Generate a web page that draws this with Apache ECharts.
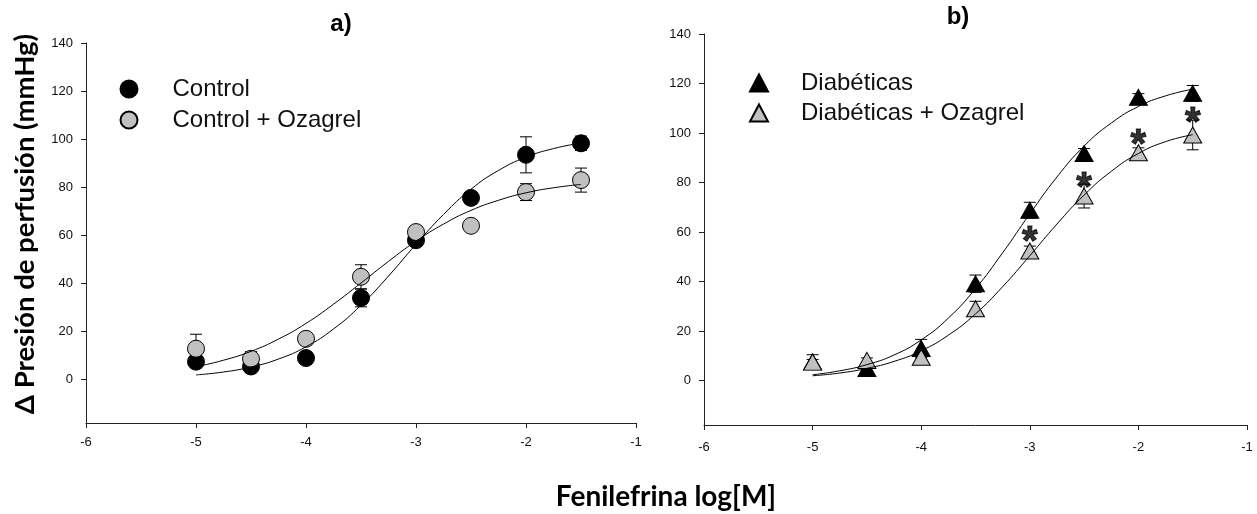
<!DOCTYPE html>
<html>
<head>
<meta charset="utf-8">
<script src="https://cdn.jsdelivr.net/npm/echarts@6/dist/echarts.min.js"></script>
<style>
  html, body { margin: 0; padding: 0; background: #fff; }
  #main { width: 1257px; height: 514px; }
</style>
</head>
<body>
<div id="main"></div>
<script>
// dosis (log M)
const doses = [-5, -4.5, -4, -3.5, -3, -2.5, -2, -1.5];
const fitX = [-5, -4.75, -4.5, -4.25, -4, -3.75, -3.5, -3.25, -3, -2.75, -2.5, -2.25, -2, -1.75, -1.5];
const yTicks = [0, 20, 40, 60, 80, 100, 120, 140];

// panel a
const controlMean = [7.5, 5.5, 9, 34, 58, 75.6, 93.5, 98.3];
const controlSem = [1, 1, 1, 3.7, 1.5, 1, 7.5, 3];
const controlOzaMean = [12.9, 8.7, 17, 42.8, 61.4, 64, 78, 83];
const controlOzaSem = [6, 3, 1.5, 5, 1.5, 1.5, 3.5, 5];
const controlFit = [2.0, 3.2, 5.3, 8.6, 13.7, 21.1, 31.0, 43.1, 56.3, 68.7, 79.2, 87.0, 92.5, 96.1, 98.4];
const controlOzaFit = [5.4, 8.1, 11.8, 16.9, 23.4, 31.4, 40.2, 49.2, 57.6, 64.7, 70.4, 74.6, 77.7, 79.8, 81.2];

// panel b
const diabMean = [7.5, 4.8, 12.9, 39.1, 68.8, 91.7, 114.4, 116];
const diabSem = [1, 1, 3.7, 3.5, 3.2, 2, 1.5, 3.2];
const diabOzaMean = [7.4, 8.1, 9.4, 29, 52.3, 74.5, 92, 99.2];
const diabOzaSem = [3, 1, 1, 3, 2, 4.8, 2, 6];
const diabFit = [2.3, 3.9, 6.4, 10.3, 16.4, 25.2, 37.1, 51.6, 67.3, 82.2, 94.7, 104.0, 110.7, 115.0, 117.7];
const diabOzaFit = [1.9, 3.0, 4.9, 7.7, 12.0, 18.3, 26.9, 37.9, 50.4, 63.2, 74.9, 84.5, 91.7, 96.5, 99.3];

// asteriscos (p < 0.05)
const starX = [-3, -2.5, -2, -1.5];
const starY = [59.4, 81.6, 98.7, 107.6];

const gray = '#c0c0c0';
const zip = (xs, ys) => xs.map((x, i) => [x, ys[i]]);
const zip3 = (xs, ys, es) => xs.map((x, i) => [x, ys[i], es[i]]);

function renderErr(params, api) {
  const x = api.value(0), y = api.value(1), e = api.value(2);
  const top = api.coord([x, y + e]);
  const bot = api.coord([x, y - e]);
  const w = 6;
  const st = { stroke: '#000', lineWidth: 1 };
  return {
    type: 'group',
    children: [
      { type: 'line', shape: { x1: top[0], y1: top[1], x2: bot[0], y2: bot[1] }, style: st },
      { type: 'line', shape: { x1: top[0] - w, y1: top[1], x2: top[0] + w, y2: top[1] }, style: st },
      { type: 'line', shape: { x1: bot[0] - w, y1: bot[1], x2: bot[0] + w, y2: bot[1] }, style: st }
    ]
  };
}

function errSeries(idx, xs, ys, es) {
  return {
    type: 'custom', xAxisIndex: idx, yAxisIndex: idx, z: 1,
    renderItem: renderErr, encode: { x: 0, y: 1 },
    data: zip3(xs, ys, es), silent: true
  };
}

function fitSeries(idx, ys) {
  return {
    type: 'line', xAxisIndex: idx, yAxisIndex: idx, z: 5,
    data: zip(fitX, ys), showSymbol: false, smooth: true,
    lineStyle: { color: '#000', width: 1 }, silent: true
  };
}

function xAx(idx, margin) {
  return {
    gridIndex: idx, type: 'value', min: -6, max: -1, interval: 1,
    splitLine: { show: false },
    axisLine: { onZero: false, lineStyle: { color: '#222', width: 1 } },
    axisTick: { length: 5, lineStyle: { color: '#222' } },
    axisLabel: { color: '#111', fontSize: 13, fontFamily: 'Liberation Sans', margin: margin }
  };
}

function yAx(idx) {
  return {
    gridIndex: idx, type: 'value', min: -18, max: 140,
    splitLine: { show: false },
    axisLine: { show: true, onZero: false, lineStyle: { color: '#222', width: 1 } },
    axisTick: { show: true, length: 5, customValues: yTicks, lineStyle: { color: '#222' } },
    axisLabel: { color: '#111', fontSize: 13, fontFamily: 'Liberation Sans', margin: 13, customValues: yTicks }
  };
}

const chart = echarts.init(document.getElementById('main'));

const option = {
  animation: false,
  backgroundColor: '#fff',
  grid: [
    { left: 86, top: 43, width: 550, height: 380 },
    { left: 704, top: 34, width: 543, height: 391 }
  ],
  xAxis: [xAx(0, 13), xAx(1, 16)],
  yAxis: [yAx(0), yAx(1)],
  legend: [
    {
      data: ['Control', 'Control + Ozagrel'],
      orient: 'vertical', left: 119.5, top: 77, padding: 0,
      itemWidth: 17, itemHeight: 17, itemGap: 7,
      textStyle: { fontSize: 24, lineHeight: 22, color: '#111', fontFamily: 'Liberation Sans', padding: [0, 0, 0, 30] }
    },
    {
      data: ['Diabéticas', 'Diabéticas + Ozagrel'],
      orient: 'vertical', left: 749, top: 71, padding: 0,
      itemWidth: 18, itemHeight: 17, itemGap: 6,
      textStyle: { fontSize: 24, lineHeight: 22, color: '#111', fontFamily: 'Liberation Sans', padding: [0, 0, 0, 28] }
    }
  ],
  graphic: [
    { type: 'text', x: 341, y: 24, style: { text: 'a)', font: 'bold 24px "Liberation Sans"', fill: '#000', align: 'center', verticalAlign: 'middle' } },
    { type: 'text', x: 958, y: 17, style: { text: 'b)', font: 'bold 24px "Liberation Sans"', fill: '#000', align: 'center', verticalAlign: 'middle' } },
    { type: 'text', x: 25, y: 224, rotation: Math.PI / 2, style: { text: 'Δ Presión de perfusión (mmHg)', font: 'bold 27.5px Lato', fill: '#000', align: 'center', verticalAlign: 'middle' } },
    { type: 'text', x: 666, y: 497, style: { text: 'Fenilefrina log[M]', font: 'bold 28px Lato', fill: '#000', align: 'center', verticalAlign: 'middle' } }
  ],
  series: [
    errSeries(0, doses, controlMean, controlSem),
    errSeries(0, doses, controlOzaMean, controlOzaSem),
    {
      name: 'Control', type: 'scatter', xAxisIndex: 0, yAxisIndex: 0, z: 3,
      symbol: 'circle', symbolSize: 17, data: zip(doses, controlMean),
      itemStyle: { color: '#000', borderColor: '#000', borderWidth: 1, opacity: 1 }
    },
    {
      name: 'Control + Ozagrel', type: 'scatter', xAxisIndex: 0, yAxisIndex: 0, z: 4,
      symbol: 'circle', symbolSize: 17, data: zip(doses, controlOzaMean),
      itemStyle: { color: gray, borderColor: '#000', borderWidth: 1, opacity: 1 }
    },
    fitSeries(0, controlFit),
    fitSeries(0, controlOzaFit),

    errSeries(1, doses, diabMean, diabSem),
    errSeries(1, doses, diabOzaMean, diabOzaSem),
    {
      name: 'Diabéticas', type: 'scatter', xAxisIndex: 1, yAxisIndex: 1, z: 3,
      symbol: 'triangle', symbolSize: [18, 16], data: zip(doses, diabMean),
      itemStyle: { color: '#000', borderColor: '#000', borderWidth: 1, opacity: 1 }
    },
    {
      name: 'Diabéticas + Ozagrel', type: 'scatter', xAxisIndex: 1, yAxisIndex: 1, z: 4,
      symbol: 'triangle', symbolSize: [18, 16], data: zip(doses, diabOzaMean),
      itemStyle: { color: gray, borderColor: '#000', borderWidth: 1, opacity: 1 }
    },
    fitSeries(1, diabFit),
    fitSeries(1, diabOzaFit),
    {
      name: 'sig', type: 'scatter', xAxisIndex: 1, yAxisIndex: 1, z: 6,
      symbolSize: 2, itemStyle: { color: 'rgba(0,0,0,0)' }, silent: true,
      data: zip(starX, starY),
      label: {
        show: true, position: 'inside', formatter: '*', offset: [0, 10],
        fontSize: 40, fontWeight: 'bold', color: '#000', fontFamily: 'Liberation Sans',
        textBorderColor: '#000', textBorderWidth: 1
      }
    }
  ]
};

chart.setOption(option);
</script>
</body>
</html>
